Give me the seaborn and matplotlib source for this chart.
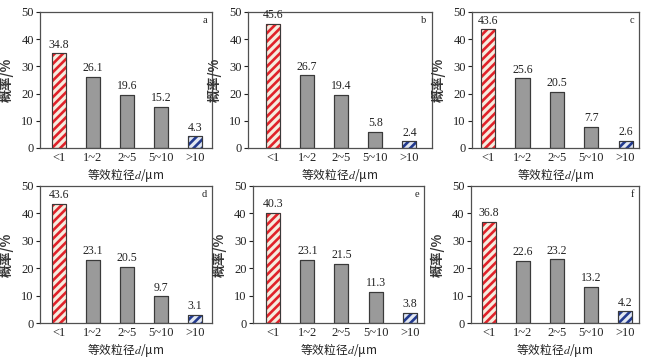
import matplotlib
matplotlib.use('Agg')
import matplotlib.pyplot as plt
import seaborn as sns

categories = ['<1', '1~2', '2~5', '5~10', '>10']
values_a = [34.8, 26.1, 19.6, 15.2, 4.3]
values_b = [45.6, 26.7, 19.4, 5.8, 2.4]
values_c = [43.6, 25.6, 20.5, 7.7, 2.6]
values_d = [43.6, 23.1, 20.5, 9.7, 3.1]
values_e = [40.3, 23.1, 21.5, 11.3, 3.8]
values_f = [36.8, 22.6, 23.2, 13.2, 4.2]
panel_labels = ['a', 'b', 'c', 'd', 'e', 'f']
yticks = [0, 10, 20, 30, 40, 50]
ylabel = '概率/%'
xlabel = '等效粒径$d$/μm'

sns.set_theme(style='ticks')
plt.rcParams['font.family'] = ['Liberation Serif', 'Noto Sans CJK SC']
plt.rcParams['hatch.linewidth'] = 1.9
plt.rcParams['mathtext.fontset'] = 'stix'

W, H = 655, 358
fig = plt.figure(figsize=(W / 100, H / 100), dpi=100)

# layout boxes in pixels: left, right, top, bottom
boxes = [(40, 212, 12, 148), (248, 432, 12, 148), (472, 639, 12, 148),
         (40, 212, 186, 323), (253, 424, 186, 323), (471, 639, 186, 323)]
xlims = [(-0.56, 4.5), (-0.73, 4.66), (-0.47, 4.39),
         (-0.56, 4.5), (-0.59, 4.42), (-0.52, 4.41)]
all_values = [values_a, values_b, values_c, values_d, values_e, values_f]

gray = '#9a9a9a'
edge = '#3a3a3a'
spine_c = '#505050'

for vals, lab, box, xl in zip(all_values, panel_labels, boxes, xlims):
    l, r, t, b = box
    ax = fig.add_axes([l / W, 1 - b / H, (r - l) / W, (b - t) / H])
    sns.barplot(x=categories, y=vals, ax=ax, color=gray, width=0.41,
                edgecolor=edge, linewidth=0.8, saturation=1, errorbar=None)
    bars = ax.patches
    # first bar: red stripes
    bars[0].set_facecolor('#f5ecdf')
    bars[0].set_edgecolor('#e0222a')
    bars[0].set_hatch('////')
    # last bar: blue stripes
    bars[-1].set_facecolor('#e2e8f1')
    bars[-1].set_edgecolor('#223a8f')
    bars[-1].set_hatch('////')
    # outlines on top
    sns.barplot(x=categories, y=vals, ax=ax, fill=False, color=edge,
                width=0.41, linewidth=0.8, errorbar=None)
    ax.bar_label(ax.containers[0], fmt='%.1f', padding=2, fontsize=8.5,
                 color='#222222')
    ax.set_xlim(*xl)
    ax.set_ylim(0, 50)
    ax.set_yticks(yticks)
    ax.tick_params(axis='y', direction='out', length=3, width=0.8,
                   colors='#222222', labelsize=9, pad=1.5)
    ax.tick_params(axis='x', length=0, labelsize=9, colors='#222222', pad=3)
    for s in ax.spines.values():
        s.set_visible(True)
        s.set_color(spine_c)
        s.set_linewidth(0.9)
    ax.set_ylabel(ylabel, fontsize=9.5, family=['Noto Sans CJK SC'],
                  fontweight='bold', labelpad=5, color='#333333')
    ax.set_xlabel(xlabel, fontsize=8.5, family=['Noto Sans CJK SC'],
                  labelpad=1, color='#222222')
    ax.text(0.97, 0.94, lab, transform=ax.transAxes, ha='right', va='center',
            fontsize=7.5, color='#222222')

fig.savefig('out.png', dpi=100)
